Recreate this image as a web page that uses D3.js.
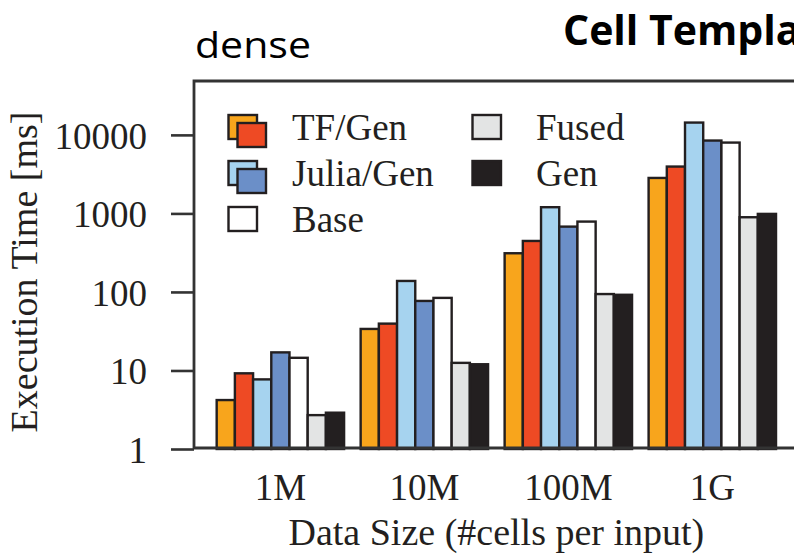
<!DOCTYPE html>
<html>
<head>
<meta charset="utf-8">
<script src="https://cdn.jsdelivr.net/npm/d3@7"></script>
<style>
  html, body { margin: 0; padding: 0; background: #fff; }
  svg { display: block; }
</style>
</head>
<body>
<svg id="chart" width="794" height="556"></svg>
<script>
// ---------- data ----------
const categories = ["1M", "10M", "100M", "1G"];
const seriesKeys = ["TF", "TF/Gen", "Julia", "Julia/Gen", "Base", "Fused", "Gen"];
const tfValues        = [4.2, 33.8, 311, 2830];
const tfGenValues     = [9.2, 39.5, 446, 3950];
const juliaValues     = [7.7, 138, 1200, 14350];
const juliaGenValues  = [17, 76.8, 679, 8470];
const baseValues      = [14.5, 84, 787, 7980];
const fusedValues     = [2.7, 12.5, 94, 894];
const genValues       = [2.9, 12.0, 92, 986];
const yTickValues = [1, 10, 100, 1000, 10000];
const legendLabels = ["TF/Gen", "Julia/Gen", "Base", "Fused", "Gen"];

const seriesValues = [tfValues, tfGenValues, juliaValues, juliaGenValues, baseValues, fusedValues, genValues];
const seriesColors = ["#F8A51C", "#EE4A24", "#A6D3EF", "#6B8FC8", "#FFFFFF", "#E3E4E4", "#231F20"];

// ---------- setup ----------
const svg = d3.select("#chart");
const W = 794, H = 556;
svg.append("rect").attr("width", W).attr("height", H).attr("fill", "#fff");

const ink = "#231F20";
const frameColor = "#333333";
const serif = "'Liberation Serif', 'Times New Roman', serif";
const sans = "'Open Sans', 'Noto Sans', sans-serif";

const y = d3.scaleLog().domain([1, 50000]).range([449, 80]);
const x0 = d3.scaleBand().domain(categories).range([208.4, 784.3])
  .paddingInner(0.115).paddingOuter(0.0575);
const x1 = d3.scaleBand().domain(seriesKeys).range([0, x0.bandwidth()]).padding(0);

// ---------- titles ----------
svg.append("text").attr("x", 195).attr("y", 58)
  .attr("font-family", sans).attr("font-size", 36).attr("fill", "#000")
  .attr("textLength", 116).attr("lengthAdjust", "spacingAndGlyphs")
  .text("dense");
svg.append("text").attr("x", 563).attr("y", 45)
  .attr("font-family", sans).attr("font-weight", "bold").attr("font-size", 41).attr("fill", "#000")
  .text("Cell Template");

// ---------- bars ----------
const groups = svg.append("g").selectAll("g").data(categories).join("g")
  .attr("transform", d => `translate(${x0(d)},0)`);
groups.selectAll("rect")
  .data((d, i) => seriesKeys.map((k, j) => ({ key: k, value: seriesValues[j][i], color: seriesColors[j] })))
  .join("rect")
  .attr("x", d => x1(d.key))
  .attr("width", x1.bandwidth())
  .attr("y", d => y(d.value))
  .attr("height", d => y(1) - y(d.value))
  .attr("fill", d => d.color)
  .attr("stroke", ink)
  .attr("stroke-width", 2.4);

// ---------- frame ----------
svg.append("path")
  .attr("d", `M ${W + 20} 81 H 194 V 448 H ${W + 20}`)
  .attr("fill", "none").attr("stroke", frameColor).attr("stroke-width", 2.8);

// ---------- axes ----------
const yAxis = svg.append("g").attr("transform", "translate(194,0)")
  .call(d3.axisLeft(y).tickValues(yTickValues).tickFormat(d3.format("d")).tickSize(23).tickPadding(24));
yAxis.select(".domain").remove();
yAxis.selectAll(".tick line").attr("stroke", frameColor).attr("stroke-width", 2.6);
yAxis.selectAll(".tick text").attr("font-family", serif).attr("font-size", 37).attr("fill", ink).attr("dy", "0.36em");

const xAxis = svg.append("g").attr("transform", "translate(0,448)")
  .call(d3.axisBottom(x0).tickSize(0).tickPadding(26));
xAxis.select(".domain").remove();
xAxis.selectAll(".tick text").attr("font-family", serif).attr("font-size", 37).attr("fill", ink);

svg.append("text")
  .attr("x", (x0.range()[0] + x0.range()[1]) / 2).attr("y", 545)
  .attr("text-anchor", "middle")
  .attr("font-family", serif).attr("font-size", 38).attr("fill", ink)
  .text("Data Size (#cells per input)");

svg.append("text")
  .attr("transform", "translate(37,272) rotate(-90)")
  .attr("text-anchor", "middle")
  .attr("font-family", serif).attr("font-size", 38).attr("fill", ink)
  .text("Execution Time [ms]");

// ---------- legend ----------
const legendItems = [
  { label: legendLabels[0], colors: [seriesColors[0], seriesColors[1]], col: 0, row: 0 },
  { label: legendLabels[1], colors: [seriesColors[2], seriesColors[3]], col: 0, row: 1 },
  { label: legendLabels[2], colors: [seriesColors[4]], col: 0, row: 2 },
  { label: legendLabels[3], colors: [seriesColors[5]], col: 1, row: 0 },
  { label: legendLabels[4], colors: [seriesColors[6]], col: 1, row: 1 }
];
const colX = [228.5, 472.5];
const rowBase = [140, 186, 232];
const sqW = 28.5, sqH = 24;
const lg = svg.append("g").selectAll("g").data(legendItems).join("g")
  .attr("transform", d => `translate(${colX[d.col]},${rowBase[d.row]})`);
lg.each(function(d) {
  const g = d3.select(this);
  d.colors.forEach((c, i) => {
    g.append("rect")
      .attr("x", i * 9).attr("y", -25 + i * 8)
      .attr("width", sqW).attr("height", sqH)
      .attr("fill", c).attr("stroke", ink).attr("stroke-width", 2.4);
  });
  g.append("text").attr("x", 63.5).attr("y", 0)
    .attr("font-family", serif).attr("font-size", 37).attr("fill", ink)
    .text(d.label);
});
</script>
</body>
</html>
